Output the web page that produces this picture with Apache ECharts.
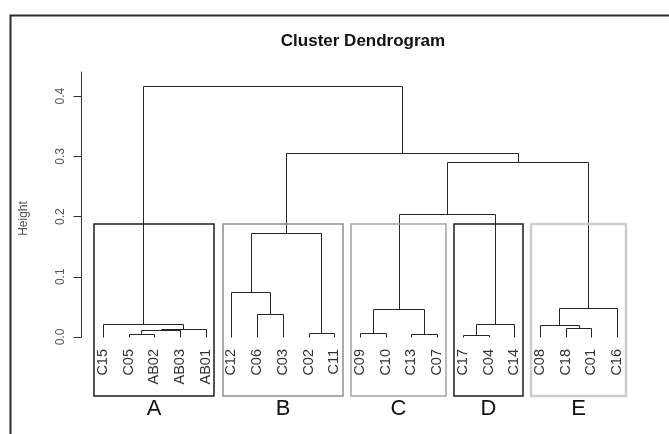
<!DOCTYPE html>
<html>
<head>
<meta charset="utf-8">
<script src="https://cdn.jsdelivr.net/npm/echarts@6/dist/echarts.min.js"></script>
<style>
  html, body { margin: 0; padding: 0; background: #fff; }
  #chart { width: 669px; height: 434px; }
</style>
</head>
<body>
<div id="chart"></div>
<script>
// Leaf labels in the order they are drawn along the x axis
const leaves = ['C15', 'C05', 'AB02', 'AB03', 'AB01', 'C12', 'C06', 'C03', 'C02', 'C11',
                'C09', 'C10', 'C13', 'C07', 'C17', 'C04', 'C14', 'C08', 'C18', 'C01', 'C16'];

// Agglomeration steps (hclust convention): negative = leaf position (1-based),
// positive = result of an earlier step (1-based)
const mergeLeft   = [-15, -13, -2, -9, -11, 3, 6, -19, -18, -1, 1, -7, 5, 9, -6, 15, 13, 17, 16, 10];
const mergeRight  = [-16, -14, -3, -10, -12, -4, -5, -20, 8, 7, -17, -8, 2, -21, 12, 4, 11, 14, 18, 19];
const mergeHeight = [0.0033, 0.0045, 0.0058, 0.0060, 0.0062, 0.0108, 0.0141, 0.0144, 0.0204, 0.0216,
                     0.0218, 0.038, 0.046, 0.0476, 0.074, 0.172, 0.204, 0.290, 0.306, 0.4166];

// Height axis ticks
const heightTicks = [0, 0.1, 0.2, 0.3, 0.4];

// Cluster groups cut from the tree (k = 5), left to right
const clusterNames = ['A', 'B', 'C', 'D', 'E'];
const clusterSizes = [5, 5, 4, 3, 4];

// ---- styling ----
const FONT = '"Liberation Sans", Arial, Helvetica, sans-serif';
const boxColors = ['#1c1c1c', '#8e8e8e', '#a2a2a2', '#1c1c1c', '#cdcdcd'];
const boxWidths = [1.5, 1.5, 1.5, 1.5, 2.5];
const plotFloor = -0.098;   // lower edge of the plotting region, in height units

// ---- tree layout: node x = mean of its two children, leaves at 0..n-1 ----
const nodeX = [], nodeH = [];
function childPos(ref) {
  return ref < 0 ? [-ref - 1, 0] : [nodeX[ref - 1], nodeH[ref - 1]];
}
const links = [];
for (let i = 0; i < mergeHeight.length; i++) {
  const [xl, hl] = childPos(mergeLeft[i]);
  const [xr, hr] = childPos(mergeRight[i]);
  const h = mergeHeight[i];
  nodeX.push((xl + xr) / 2);
  nodeH.push(h);
  links.push([xl, hl, xr, hr, h]);
}

// ---- rectangles around the k clusters (as rect.hclust places them) ----
const desc = mergeHeight.slice().sort((a, b) => b - a);
const k = clusterNames.length;
const cutHeight = (desc[k - 2] + desc[k - 1]) / 2;
const boxes = [];
let before = 0;
clusterSizes.forEach((size, i) => {
  boxes.push([before - 0.34, before + size - 1 + 0.33, cutHeight, plotFloor, i]);
  before += size;
});

const snap = v => Math.round(v) + 0.5;

const chart = echarts.init(document.getElementById('chart'), null, { renderer: 'canvas' });
chart.setOption({
  backgroundColor: '#ffffff',
  animation: false,
  title: {
    text: 'Cluster Dendrogram',
    left: 358,
    top: 28,
    textAlign: 'center',
    textStyle: { fontFamily: FONT, fontSize: 17, fontWeight: 'bold', color: '#111' }
  },
  graphic: [{
    type: 'rect',
    left: 8, top: 13,
    shape: { width: 720, height: 500 },
    style: { fill: null, stroke: '#2b2b2b', lineWidth: 2 },
    silent: true
  }],
  grid: { left: 90, right: 39, top: 72, bottom: 97 },
  xAxis: [{
    type: 'category',
    data: leaves,
    position: 'bottom',
    axisLine: { show: false },
    axisTick: { show: false },
    splitLine: { show: false },
    axisLabel: {
      interval: 0, rotate: 90, margin: 12,
      fontFamily: FONT, fontSize: 14.5, color: '#333'
    }
  }, {
    type: 'value',
    min: -0.5, max: leaves.length - 0.5,
    show: false
  }],
  yAxis: {
    type: 'value',
    min: 0, max: 0.44,
    offset: 8.5,
    axisLine: { show: true, onZero: false, lineStyle: { color: '#333', width: 1 } },
    axisTick: { show: true, length: 8, customValues: heightTicks, lineStyle: { color: '#333' } },
    axisLabel: {
      customValues: heightTicks, rotate: 90, margin: 15,
      formatter: v => v.toFixed(1),
      fontFamily: FONT, fontSize: 12, color: '#555'
    },
    splitLine: { show: false },
    name: 'Height',
    nameLocation: 'middle',
    nameRotate: 90,
    nameGap: 52,
    nameTextStyle: { fontFamily: FONT, fontSize: 12, color: '#555', padding: [0, 28, 0, 0] }
  },
  series: [{
    type: 'custom',
    name: 'tree',
    xAxisIndex: 1, yAxisIndex: 0,
    silent: true,
    data: links,
    encode: { x: [0, 2], y: [1, 3, 4] },
    renderItem(params, api) {
      const p = (x, y) => { const c = api.coord([x, y]); return [snap(c[0]), snap(c[1])]; };
      const xl = api.value(0), hl = api.value(1), xr = api.value(2), hr = api.value(3), h = api.value(4);
      return {
        type: 'polyline',
        shape: { points: [p(xl, hl), p(xl, h), p(xr, h), p(xr, hr)] },
        style: { stroke: '#262626', lineWidth: 1, fill: null }
      };
    }
  }, {
    type: 'custom',
    name: 'clusters',
    xAxisIndex: 1, yAxisIndex: 0,
    silent: true,
    clip: false,
    data: boxes,
    encode: { x: [0, 1], y: [2, 3] },
    renderItem(params, api) {
      const i = api.value(4);
      const tl = api.coord([api.value(0), api.value(2)]);
      const br = api.coord([api.value(1), api.value(3)]);
      const x0 = Math.round(tl[0]), y0 = Math.round(tl[1]);
      const x1 = Math.round(br[0]), y1 = Math.round(br[1]);
      return {
        type: 'group',
        children: [{
          type: 'rect',
          shape: { x: x0, y: y0, width: x1 - x0, height: y1 - y0 },
          style: { fill: null, stroke: boxColors[i], lineWidth: boxWidths[i] }
        }, {
          type: 'text',
          x: (x0 + x1) / 2, y: y1 + 13,
          style: {
            text: clusterNames[i],
            fontFamily: FONT, fontSize: 22, fill: '#111',
            align: 'center', verticalAlign: 'middle'
          }
        }]
      };
    }
  }]
});
</script>
</body>
</html>
